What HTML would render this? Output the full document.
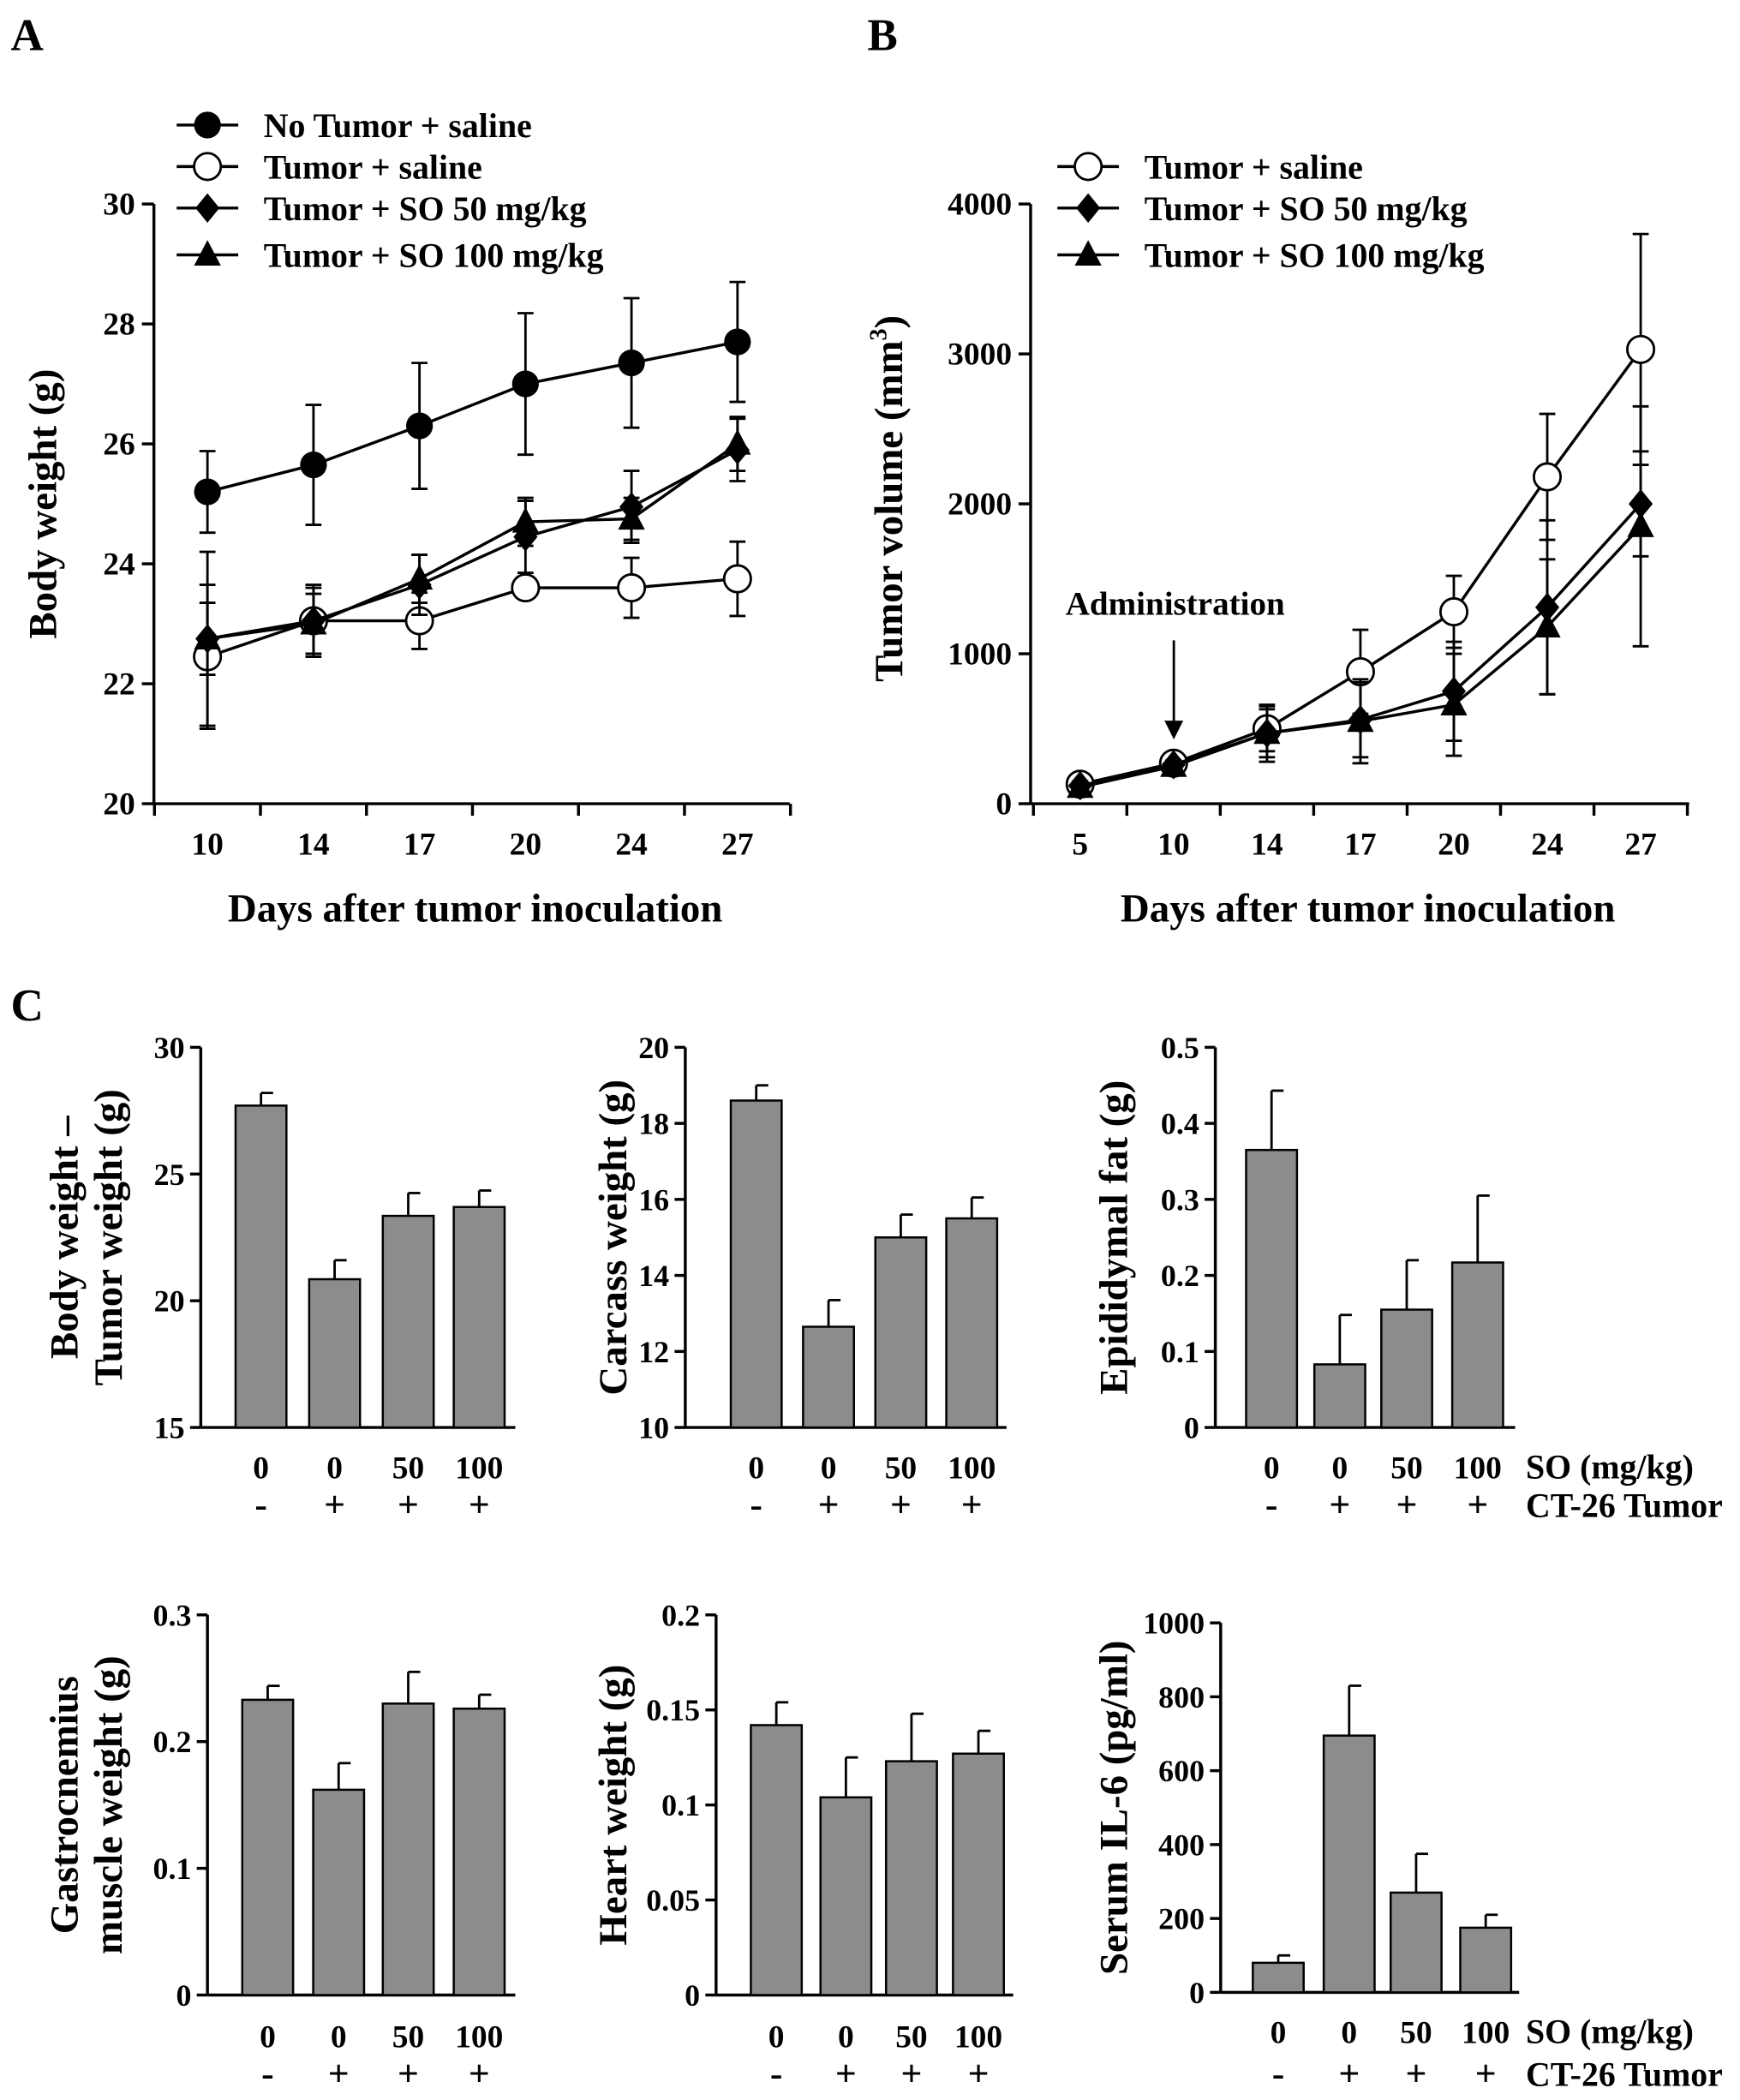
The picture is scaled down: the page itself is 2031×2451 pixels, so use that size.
<!DOCTYPE html>
<html><head><meta charset="utf-8"><style>
html,body{margin:0;padding:0;background:#fff}
svg{display:block}
text{font-family:"Liberation Serif",serif;font-weight:bold;fill:#000}
</style></head><body>
<svg id="s" width="2031" height="2451" viewBox="0 0 1300 1568" xmlns="http://www.w3.org/2000/svg"></svg>
<script>
// Panel A data
const daysA=["10","14","17","20","24","27"];
const noTumor=[25.2,25.65,26.3,27.0,27.35,27.7], noTumorErr=[0.68,1.0,1.05,1.18,1.08,1.0];
const tumSal=[22.45,23.05,23.05,23.6,23.6,23.75], tumSalErr=[1.2,0.6,0.47,0.0,0.5,0.62];
const so50=[22.75,23.05,23.65,24.45,24.95,25.9], so50Err=[0.6,0.55,0.5,0.6,0.6,0.52];
const so100=[22.75,23.0,23.75,24.7,24.75,26.0], so100Err=[1.45,0.5,0.4,0.4,0.35,0.45];
const ticksA=[20,22,24,26,28,30];
// Panel B data
const daysB=["5","10","14","17","20","24","27"];
const bSal=[130,270,500,880,1280,2180,3030], bSalErr=[30,30,150,280,240,420,770];
const b50=[120,260,470,560,750,1310,2000], b50Err=[30,30,160,250,330,580,350];
const b100=[110,250,470,550,660,1180,1850], b100Err=[30,30,190,280,340,450,800];
const ticksB=[0,1000,2000,3000,4000];
// Panel C data
const groupsDose=["0","0","50","100"], groupsTumor=["-","+","+","+"];
const c1=[27.7,20.85,23.35,23.7], c1Err=[0.5,0.75,0.9,0.65];
const c2=[18.6,12.65,15.0,15.5], c2Err=[0.4,0.7,0.6,0.55];
const c3=[0.365,0.083,0.155,0.217], c3Err=[0.078,0.065,0.065,0.088];
const c4=[0.233,0.162,0.23,0.226], c4Err=[0.011,0.021,0.025,0.011];
const c5=[0.142,0.104,0.123,0.127], c5Err=[0.012,0.021,0.025,0.012];
const c6=[80,695,270,175], c6Err=[20,135,105,35];

const S=document.getElementById('s'),NS='http://www.w3.org/2000/svg';
function el(t,a,p){const e=document.createElementNS(NS,t);for(const k in a)e.setAttribute(k,a[k]);(p||S).appendChild(e);return e;}
function txt(x,y,s,sz,anchor,p){const e=el('text',{x:x,y:y,'font-size':sz,'text-anchor':anchor||'middle'},p);e.textContent=s;return e;}
function grp(name){const g=el('g',{});return g;}
const LS={stroke:'#000','stroke-width':2.2,fill:'none'};

function marker(type,x,y,g){
  if(type==='fill')el('circle',{cx:x,cy:y,r:10,fill:'#000'},g);
  else if(type==='open')el('circle',{cx:x,cy:y,r:10,fill:'#fff',stroke:'#000','stroke-width':1.8},g);
  else if(type==='dia')el('polygon',{points:`${x},${y-11} ${x+9},${y} ${x},${y+11} ${x-9},${y}`,fill:'#000'},g);
  else el('polygon',{points:`${x},${y-11} ${x+10},${y+8} ${x-10},${y+8}`,fill:'#000'},g);
}
function lineChart(o){
  const g=grp(o.name);
  const yS=v=>o.y0+(v-o.vmin)/(o.vmax-o.vmin)*(o.y1-o.y0);
  const xS=i=>o.xf+i*o.dx;
  el('line',{x1:o.ax,y1:o.y1,x2:o.ax,y2:o.y0,...LS},g);
  el('line',{x1:o.ax,y1:o.y0,x2:o.axEnd,y2:o.y0,...LS},g);
  o.ticks.forEach(t=>{const y=yS(t);el('line',{x1:o.ax-9,y1:y,x2:o.ax,y2:y,...LS},g);txt(o.ax-14,y+8,String(t),24,'end',g);});
  o.cats.forEach((c,i)=>{const xb=xS(i)-o.dx/2;el('line',{x1:xb,y1:o.y0,x2:xb,y2:o.y0+9,...LS},g);txt(xS(i),o.y0+38,c,24,'middle',g);});
  const xb=xS(o.cats.length-1)+o.dx/2;el('line',{x1:xb,y1:o.y0,x2:xb,y2:o.y0+9,...LS},g);
  o.series.forEach(s=>{
    const sg=grp('series-'+s.name);g.appendChild(sg);
    s.v.forEach((v,i)=>{const x=xS(i),a=yS(v+s.e[i]),b=yS(v-s.e[i]);
      el('line',{x1:x,y1:a,x2:x,y2:b,stroke:'#000','stroke-width':1.8},sg);
      el('line',{x1:x-6,y1:a,x2:x+6,y2:a,stroke:'#000','stroke-width':1.8},sg);
      el('line',{x1:x-6,y1:b,x2:x+6,y2:b,stroke:'#000','stroke-width':1.8},sg);});
    el('polyline',{points:s.v.map((v,i)=>xS(i)+','+yS(v)).join(' '),...LS},sg);
    s.v.forEach((v,i)=>marker(s.m,xS(i),yS(v),sg));
  });
  o.legend.forEach((l,i)=>{const lg=grp('legend-entry');g.appendChild(lg);const y=o.legY[i];
    el('line',{x1:o.legX,y1:y,x2:o.legX+46,y2:y,...LS},lg);marker(l[1],o.legX+23,y,lg);txt(o.legX+65,y+9,l[0],25.5,'start',lg);});
  if(o.ytitle){const yt=txt(0,0,o.ytitle,30,'middle',g);yt.setAttribute('transform',`translate(${o.ytx},${(o.y0+o.y1)/2}) rotate(-90)`);}
  const xt=txt(o.xtx,688,'Days after tumor inoculation',30,'middle',g);
  return {g,xS,yS};
}
txt(8,37,'A',34,'start');
txt(648,37,'B',34,'start');
txt(8,762,'C',34,'start');

lineChart({name:'chart-a',ax:115,axEnd:590,y0:600,y1:152,vmin:20,vmax:30,xf:155,dx:79.2,ticks:ticksA,cats:daysA,
 series:[{name:'no-tumor',v:noTumor,e:noTumorErr,m:'fill'},{name:'tumor-saline',v:tumSal,e:tumSalErr,m:'open'},{name:'so-50',v:so50,e:so50Err,m:'dia'},{name:'so-100',v:so100,e:so100Err,m:'tri'}],
 legend:[['No Tumor + saline','fill'],['Tumor + saline','open'],['Tumor + SO 50 mg/kg','dia'],['Tumor + SO 100 mg/kg','tri']],legX:132,legY:[93,124,155,190],
 ytitle:'Body weight (g)',ytx:42,xtx:355});
lineChart({name:'chart-b',ax:770,axEnd:1262,y0:600,y1:152,vmin:0,vmax:4000,xf:807,dx:69.8,ticks:ticksB,cats:daysB,
 series:[{name:'tumor-saline',v:bSal,e:bSalErr,m:'open'},{name:'so-50',v:b50,e:b50Err,m:'dia'},{name:'so-100',v:b100,e:b100Err,m:'tri'}],
 legend:[['Tumor + saline','open'],['Tumor + SO 50 mg/kg','dia'],['Tumor + SO 100 mg/kg','tri']],legX:790,legY:[124,155,190],
 ytitle:'',ytx:672,xtx:1022});
const yb=el('text',{'font-size':30,'text-anchor':'middle',transform:'translate(674,372) rotate(-90)'});

yb.appendChild(document.createTextNode('Tumor volume (mm'));const sup=el('tspan',{'font-size':18,dy:-12},yb);sup.textContent='3';const cl=el('tspan',{dy:12},yb);cl.textContent=')';
const ag=grp('administration-annotation');
txt(878,459,'Administration',25,'middle',ag);
el('line',{x1:877,y1:478,x2:877,y2:540,stroke:'#000','stroke-width':1.8},ag);
el('polygon',{points:'870,538 884,538 877,552',fill:'#000'},ag);

function barChart(o){
  const g=grp(o.name);
  const yS=v=>o.y0+(v-o.vmin)/(o.vmax-o.vmin)*(o.y1-o.y0);
  el('line',{x1:o.ax,y1:o.y1,x2:o.ax,y2:o.y0,...LS},g);
  el('line',{x1:o.ax,y1:o.y0,x2:o.axEnd,y2:o.y0,...LS},g);
  o.ticks.forEach(t=>{const y=yS(t);el('line',{x1:o.ax-8,y1:y,x2:o.ax,y2:y,...LS},g);txt(o.ax-12,y+8,String(t),23,'end',g);});
  o.v.forEach((v,i)=>{const x=o.xs[i],top=yS(v),et=yS(v+o.e[i]);
    el('line',{x1:x,y1:top,x2:x,y2:et,stroke:'#000','stroke-width':1.8},g);
    el('line',{x1:x,y1:et,x2:x+9,y2:et,stroke:'#000','stroke-width':1.8},g);
    const r=el('rect',{x:x-19,y:top,width:38,height:o.y0-top,fill:'#8c8c8c',stroke:'#000','stroke-width':1.6},g);
    
    txt(x,o.ly1,groupsDose[i],24,'middle',g);txt(x,o.ly2,groupsTumor[i],28,'middle',g);});
  if(o.right){txt(1140,o.ly1,'SO (mg/kg)',25.5,'start',g);txt(1140,o.ly2,'CT-26 Tumor',25.5,'start',g);}
  const cy=(o.y0+o.y1)/2;
  o.yt.forEach((s,k)=>{const t=txt(0,0,s,30,'middle',g);t.setAttribute('transform',`translate(${o.ytx+k*33},${cy}) rotate(-90)`);});
}
barChart({name:'chart-body-minus-tumor',ax:150,axEnd:385,y0:1066,y1:782,vmin:15,vmax:30,ticks:[15,20,25,30],v:c1,e:c1Err,xs:[195,250,305,358],ly1:1104,ly2:1133,yt:['Body weight –','Tumor weight (g)'],ytx:58});
barChart({name:'chart-carcass',ax:512,axEnd:752,y0:1066,y1:782,vmin:10,vmax:20,ticks:[10,12,14,16,18,20],v:c2,e:c2Err,xs:[565,619,673,726],ly1:1104,ly2:1133,yt:['Carcass weight (g)'],ytx:468});
barChart({name:'chart-epididymal-fat',ax:908,axEnd:1132,y0:1066,y1:782,vmin:0,vmax:0.5,ticks:[0,0.1,0.2,0.3,0.4,0.5],v:c3,e:c3Err,xs:[950,1001,1051,1104],ly1:1104,ly2:1133,yt:['Epididymal fat (g)'],ytx:842,right:true});
barChart({name:'chart-gastrocnemius',ax:155,axEnd:385,y0:1490,y1:1206,vmin:0,vmax:0.3,ticks:[0,0.1,0.2,0.3],v:c4,e:c4Err,xs:[200,253,305,358],ly1:1529,ly2:1558,yt:['Gastrocnemius','muscle weight (g)'],ytx:58});
barChart({name:'chart-heart',ax:535,axEnd:757,y0:1490,y1:1206,vmin:0,vmax:0.2,ticks:[0,0.05,0.1,0.15,0.2],v:c5,e:c5Err,xs:[580,632,681,731],ly1:1529,ly2:1558,yt:['Heart weight (g)'],ytx:468});
barChart({name:'chart-serum-il6',ax:912,axEnd:1135,y0:1488,y1:1212,vmin:0,vmax:1000,ticks:[0,200,400,600,800,1000],v:c6,e:c6Err,xs:[955,1008,1058,1110],ly1:1526,ly2:1558,yt:['Serum IL-6 (pg/ml)'],ytx:842,right:true});
</script>
</body></html>
